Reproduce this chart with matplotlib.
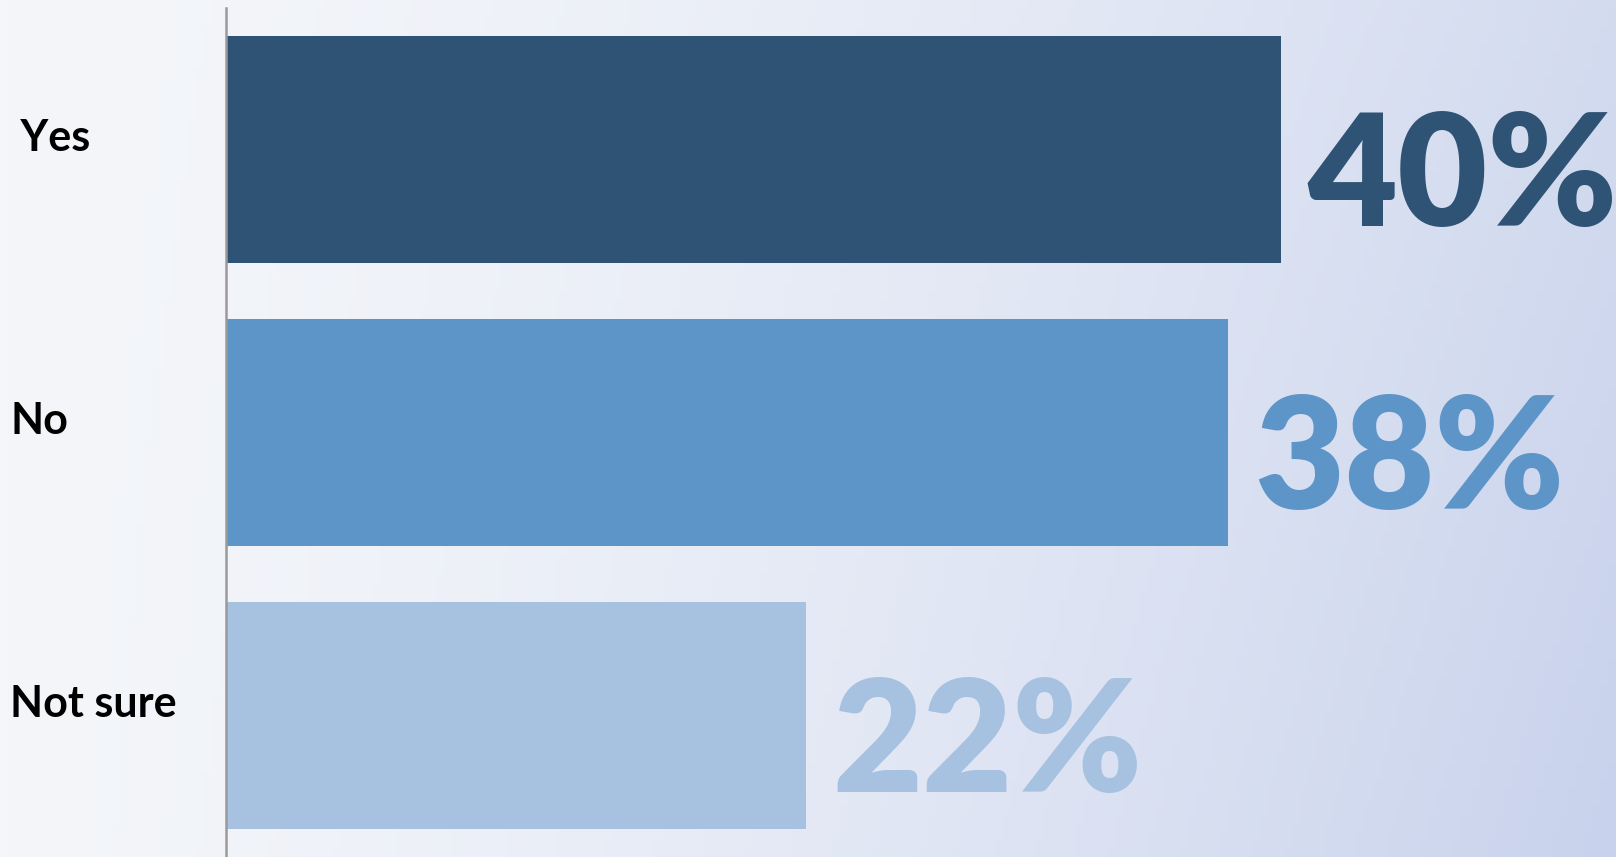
import numpy as np
import matplotlib.pyplot as plt
from matplotlib import transforms
from matplotlib.colors import to_rgb

# survey answers and shares (%)
categories = [" Yes", "No", "Not sure"]
values = [40, 38, 22]
bar_colors = ["#2F5374", "#5E95C8", "#A7C1E0"]

plt.rcParams['font.family'] = ['Lato', 'DejaVu Sans']

fig = plt.figure(figsize=(16.16, 8.57), dpi=100)

# soft bluish background, lighter on the left
bg = fig.add_axes([0, 0, 1, 1])
gx, gy = np.meshgrid(np.linspace(0, 1, 200), np.linspace(0, 1, 100))
t = np.clip(0.75 * gx ** 1.6 + 0.25 * gy * gx, 0, 1)[..., None]
c0 = np.array(to_rgb("#F4F6FA"))
c1 = np.array(to_rgb("#C8D2EC"))
bg.imshow(c0 + (c1 - c0) * t, aspect='auto', extent=[0, 1, 0, 1], origin='upper')
bg.axis('off')

ax = fig.add_axes([226 / 1616, 0, 1 - 226 / 1616, 849 / 857])
ax.patch.set_alpha(0)
y = np.arange(len(categories))
ax.barh(y, values, height=0.8, color=bar_colors, zorder=2)
ax.set_xlim(0, 1390 / 26.375)
ax.set_ylim(2.5, -0.5)

for s in ['top', 'right', 'bottom']:
    ax.spines[s].set_visible(False)
ax.spines['left'].set_color('#9A9A9A')
ax.spines['left'].set_linewidth(1.8)
ax.set_xticks([])
ax.set_yticks([])

# category names on the far left
trans = transforms.blended_transform_factory(fig.transFigure, ax.transData)
for yi, name in zip(y, categories):
    ax.text(10 / 1616, yi - 0.04, name, transform=trans, ha='left', va='center',
            fontsize=31, fontweight='bold', color='black', clip_on=False)

# big percentage labels past the bar ends
for yi, v, c in zip(y, values, bar_colors):
    ax.text(v + 1.0, yi + 0.11, f"{v}%", ha='left', va='center',
            fontsize=112, fontweight='heavy', color=c, clip_on=False)

fig.savefig("out.png", dpi=100)
